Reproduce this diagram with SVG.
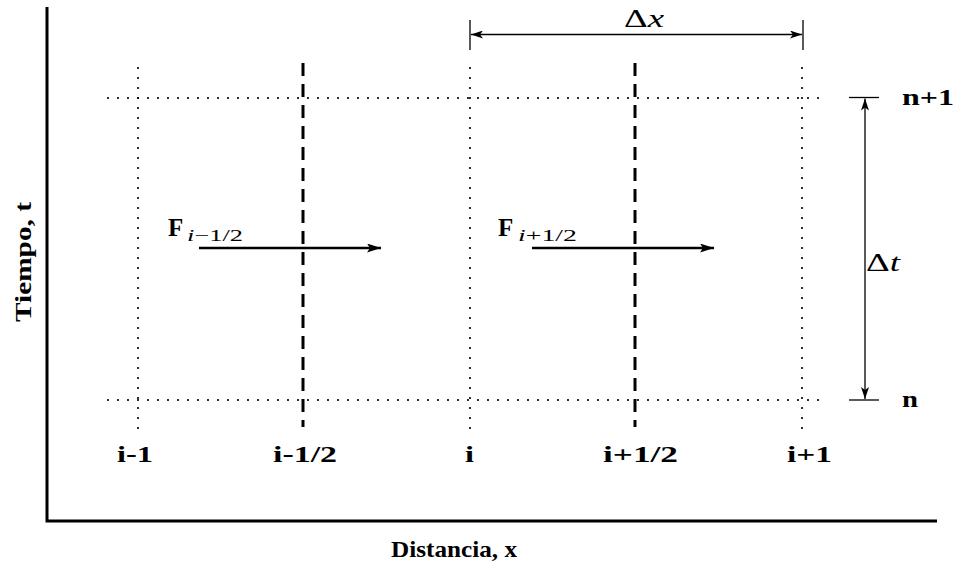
<svg xmlns="http://www.w3.org/2000/svg" width="958" height="567" viewBox="0 0 958 567">
<style>
.dot{stroke:#000;stroke-width:2.2;stroke-linecap:round;stroke-dasharray:0 10;fill:none}
.dash{stroke:#000;stroke-width:3;stroke-dasharray:13 8;fill:none}
.ln{stroke:#000;stroke-width:1.3;fill:none}
.ax{stroke:#000;stroke-width:3;fill:none}
.fl{stroke:#000;stroke-width:2.6;fill:none}
.lb{font-family:"Liberation Serif",serif;font-weight:bold;font-size:23px;fill:#000}
.mt{font-family:"Liberation Serif",serif;font-size:26px;fill:#000}
.sb{font-family:"Liberation Serif",serif;font-size:17px;fill:#000}
</style>
<defs>
<marker id="ah" viewBox="0 0 12 8" refX="12" refY="4" markerWidth="12" markerHeight="8" markerUnits="userSpaceOnUse" orient="auto-start-reverse">
<path d="M0,0 L12,4 L0,8 L3,4 Z" fill="#000"/>
</marker>
<marker id="ahb" viewBox="0 0 14 9" refX="14" refY="4.5" markerWidth="14" markerHeight="9" markerUnits="userSpaceOnUse" orient="auto">
<path d="M0,0 L14,4.5 L0,9 L3,4.5 Z" fill="#000"/>
</marker>
</defs>
<g id="axes">
<path class="ax" d="M47,7 V521 H937"/>
</g>
<g id="grid">
<line class="dot" x1="138" y1="68" x2="138" y2="430"/>
<line class="dot" x1="470" y1="68" x2="470" y2="430"/>
<line class="dot" x1="802" y1="68" x2="802" y2="430"/>
<line class="dot" x1="108" y1="98" x2="826" y2="98"/>
<line class="dot" x1="108" y1="400" x2="826" y2="400"/>
<line class="dash" x1="303" y1="63" x2="303" y2="427"/>
<line class="dash" x1="635" y1="63" x2="635" y2="427"/>
</g>
<g id="connectors">
<line class="ln" x1="470" y1="20" x2="470" y2="50"/>
<line class="ln" x1="803" y1="20" x2="803" y2="50"/>
<line class="ln" x1="471" y1="34.5" x2="802" y2="34.5" marker-start="url(#ah)" marker-end="url(#ah)"/>
<line class="ln" x1="849" y1="97.5" x2="879" y2="97.5"/>
<line class="ln" x1="849" y1="400" x2="879" y2="400"/>
<line class="ln" x1="865" y1="98.5" x2="865" y2="399" marker-start="url(#ah)" marker-end="url(#ah)"/>
<line class="fl" x1="199" y1="248" x2="381" y2="248" marker-end="url(#ahb)"/>
<line class="fl" x1="532" y1="248" x2="714" y2="248" marker-end="url(#ahb)"/>
</g>
<g id="labels">
<text class="mt" x="624" y="27" textLength="40" lengthAdjust="spacingAndGlyphs">Δ<tspan font-style="italic">x</tspan></text>
<text class="mt" x="866" y="271" textLength="34" lengthAdjust="spacingAndGlyphs">Δ<tspan font-style="italic">t</tspan></text>
<text class="lb" x="168" y="236" style="font-size:25px">F</text>
<text class="sb" x="187" y="241" textLength="56" lengthAdjust="spacingAndGlyphs"><tspan font-style="italic">i</tspan>−1/2</text>
<text class="lb" x="498" y="236" style="font-size:25px">F</text>
<text class="sb" x="518" y="241" textLength="59" lengthAdjust="spacingAndGlyphs"><tspan font-style="italic">i</tspan>+1/2</text>
<text class="lb" x="902" y="105" textLength="52" lengthAdjust="spacingAndGlyphs">n+1</text>
<text class="lb" x="902" y="407" textLength="16" lengthAdjust="spacingAndGlyphs">n</text>
<text class="lb" x="117" y="462" textLength="36" lengthAdjust="spacingAndGlyphs">i-1</text>
<text class="lb" x="273" y="462" textLength="64" lengthAdjust="spacingAndGlyphs">i-1/2</text>
<text class="lb" x="465" y="462" textLength="9" lengthAdjust="spacingAndGlyphs">i</text>
<text class="lb" x="603" y="462" textLength="75" lengthAdjust="spacingAndGlyphs">i+1/2</text>
<text class="lb" x="787" y="462" textLength="45" lengthAdjust="spacingAndGlyphs">i+1</text>
<text class="lb" x="391" y="557" textLength="126" lengthAdjust="spacingAndGlyphs">Distancia, x</text>
<text class="lb" transform="translate(31,322) rotate(-90)" textLength="120" lengthAdjust="spacingAndGlyphs">Tiempo, t</text>
</g>
</svg>
